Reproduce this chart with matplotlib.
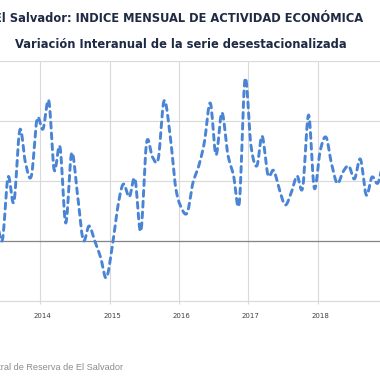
import numpy as np
import matplotlib
matplotlib.use("Agg")
import matplotlib.pyplot as plt
import matplotlib.dates as mdates
import matplotlib.transforms as mtransforms
import pandas as pd

# monthly year-on-year change of the seasonally adjusted IVAE
months = pd.date_range("2013-05-01", periods=69, freq="MS") + pd.Timedelta(days=14)
values = [
    0.8, 0.03, 2.13, 1.3, 3.7, 2.6, 2.17, 4.07,                      # 2013 (may-dec)
    3.73, 4.67, 2.37, 3.13, 0.6, 2.93, 1.6, 0.03, 0.5, 0.0, -0.55, -1.23,  # 2014
    -0.2, 1.2, 1.9, 1.47, 2.07, 0.33, 3.27, 2.8, 2.75, 4.67, 3.6, 1.8,     # 2015
    1.1, 0.95, 1.93, 2.5, 3.3, 4.6, 2.87, 4.28, 2.9, 2.2, 1.28, 5.4,       # 2016
    3.2, 2.5, 3.5, 2.2, 2.35, 1.7, 1.2, 1.6, 2.17, 1.78, 4.2, 1.76,        # 2017
    3.0, 3.46, 2.6, 1.92, 2.3, 2.5, 2.07, 2.73, 1.53, 2.13, 1.93, 2.6,     # 2018
    2.5,                                                              # 2019
]
years = [2014, 2015, 2016, 2017, 2018]
yticks = [-2, 0, 2, 4, 6]

title1 = "El Salvador: INDICE MENSUAL DE ACTIVIDAD ECONÓMICA"
title2 = "Variación Interanual de la serie desestacionalizada"
source = "Fuente: Banco Central de Reserva de El Salvador"


def smooth(x, y, n=12):
    # catmull-rom, similar to excel's smoothed line
    x = np.asarray(x, float)
    y = np.asarray(y, float)
    px = np.concatenate([[2 * x[0] - x[1]], x, [2 * x[-1] - x[-2]]])
    py = np.concatenate([[2 * y[0] - y[1]], y, [2 * y[-1] - y[-2]]])
    t = np.linspace(0, 1, n, endpoint=False)
    xs, ys = [], []
    for i in range(1, len(px) - 2):
        for p, out in ((px, xs), (py, ys)):
            p0, p1, p2, p3 = p[i - 1], p[i], p[i + 1], p[i + 2]
            out.append(0.5 * (2 * p1 + (-p0 + p2) * t
                              + (2 * p0 - 5 * p1 + 4 * p2 - p3) * t ** 2
                              + (-p0 + 3 * p1 - 3 * p2 + p3) * t ** 3))
    xs.append([x[-1]])
    ys.append([y[-1]])
    return np.concatenate(xs), np.concatenate(ys)


fig = plt.figure(figsize=(3.8, 3.8), dpi=100)
ax = fig.add_axes([0, 79 / 380, 1, 240 / 380])

xs, ys = smooth(mdates.date2num(months), values)
ax.plot(xs, ys, color="#4A84D4", lw=2.1, dashes=(2.0, 1.7),
        dash_capstyle="round", zorder=3)

ax.set_yticks(yticks)
ax.set_xticks([pd.Timestamp(f"{y}-01-01") for y in years])
ax.xaxis.set_major_formatter(mdates.DateFormatter("%Y"))

d0 = mdates.date2num(pd.Timestamp("2014-01-01"))
ax.set_xlim(d0 - 212.4, d0 + 1790.4)
ax.set_ylim(-2, 6)

ax.grid(True, color="#D9D9D9", lw=0.8)
ax.axhline(0, color="#868686", lw=0.9, zorder=2)
ax.tick_params(axis="y", left=False, labelleft=False)
ax.tick_params(axis="x", length=2, color="#D9D9D9", labelsize=5,
               labelcolor="#404040", pad=7)
offset = mtransforms.ScaledTranslation(2.5 / 100, 0, fig.dpi_scale_trans)
for lab in ax.get_xticklabels():
    lab.set_transform(lab.get_transform() + offset)
for s in ["left", "right", "top"]:
    ax.spines[s].set_visible(False)
ax.spines["bottom"].set_color("#D9D9D9")
ax.spines["bottom"].set_linewidth(0.8)

fig.text(179 / 380, 1 - 18 / 380, title1, ha="center", va="center",
         fontsize=8.3, weight="bold", color="#1F2A44")
fig.text(181 / 380, 1 - 44 / 380, title2, ha="center", va="center",
         fontsize=8.3, weight="bold", color="#1F2A44")
fig.text(123 / 380, 1 - 367 / 380, source, ha="right", va="center",
         fontsize=6.6, color="#8C8C8C", family="Liberation Sans")

fig.savefig("out.png", dpi=100)
